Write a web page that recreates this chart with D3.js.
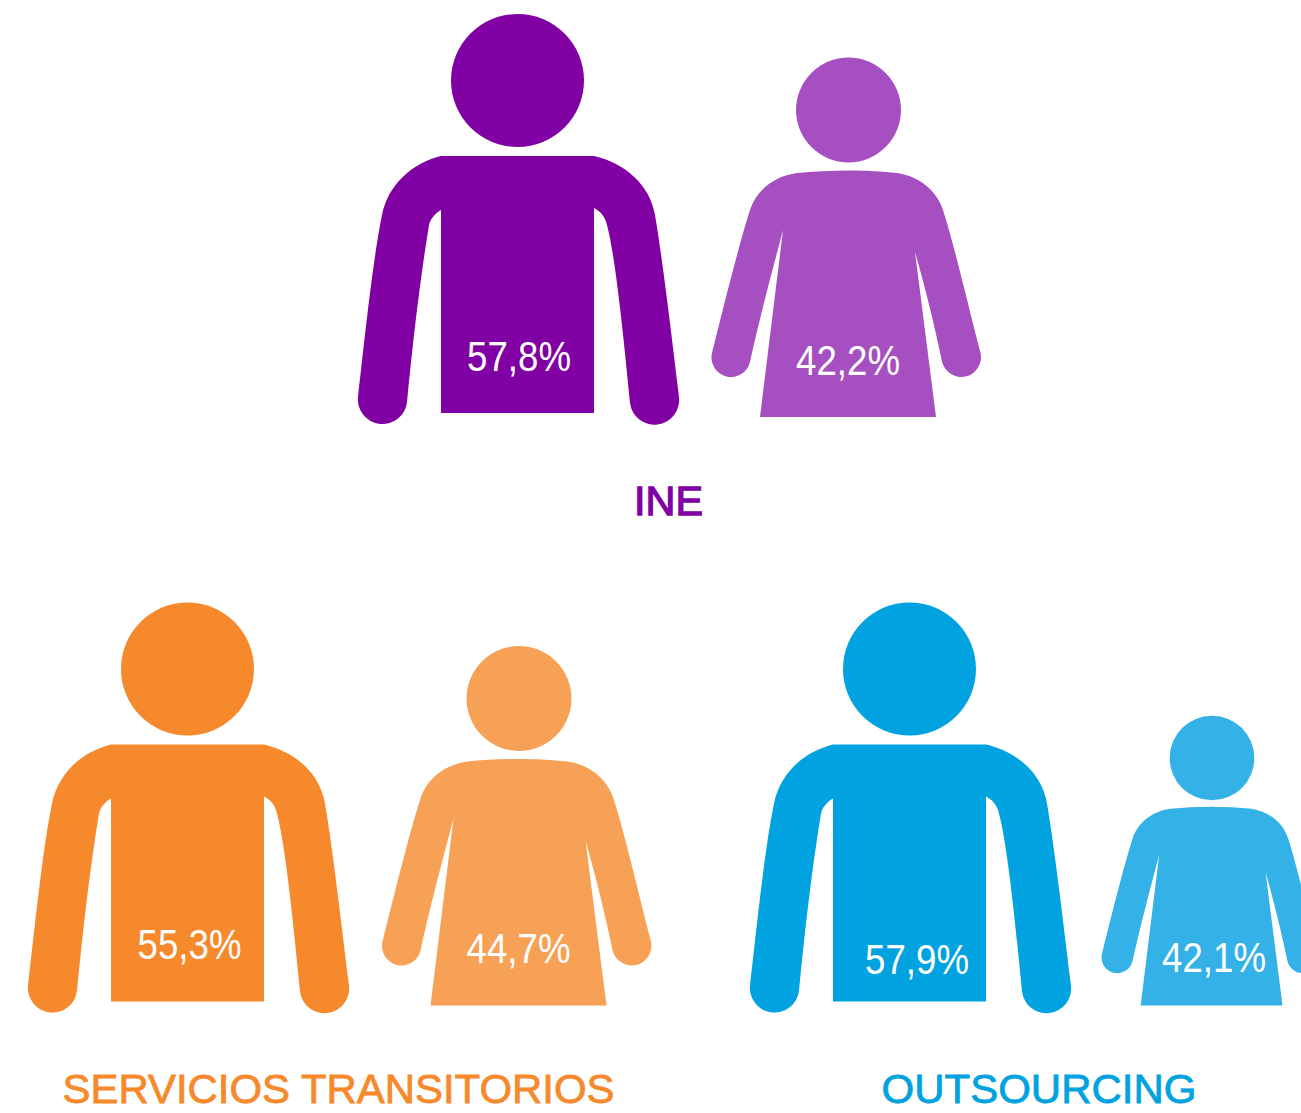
<!DOCTYPE html>
<html><head><meta charset="utf-8">
<script src="https://cdn.jsdelivr.net/npm/d3@7"></script>
<style>html,body{margin:0;background:#fff;overflow:hidden}svg{display:block}</style>
</head><body><div id="c"></div>
<script>
const groups = ["INE", "SERVICIOS TRANSITORIOS", "OUTSOURCING"];
const menValues = [57.8, 55.3, 57.9];
const womenValues = [42.2, 44.7, 42.1];
const menColors = ["#8000a3", "#f6892c", "#00a2e0"];
const womenColors = ["#a54fc0", "#f7a156", "#34b1e6"];

// layout (px)
const menPos = [[517.5, 80.5], [187.5, 669], [909.5, 669]];
const womenPos = [[848.5, 110, 1], [519, 698.5, 1], [1212, 758, 0.806]];
const titlePos = [[668.5, 515], [338.5, 1103], [1039, 1103]];
const titleWidths = [69, 552, 315];
const menLabel = [[519, 370.5], [189.5, 959], [917, 973.5]];
const womenLabel = [[848, 374.5], [518.5, 963], [1214, 971.5]];

// silhouettes relative to head centre
const manR = 66.5, womanR = 52.5;
const manBody = "M-76.5,75.5 L76.5,75.5 C107.5,82.5 132.5,104.5 137.5,134.5 C145.5,181.5 154.5,259.5 161.5,316.5 A20,20 0 0 1 112.5,322.5 C105.5,249.5 97.5,174.5 89.5,144.5 C87.5,135.5 82.5,130.5 76.5,127.5 L76.5,332.5 L-76.5,332.5 L-76.5,129.5 C-83.5,133.5 -87.5,139.5 -88.5,144.5 C-97.5,199.5 -104.5,259.5 -110.5,321.5 A20,20 0 0 1 -159.5,316.5 C-154,270 -145,180 -135.5,134.5 C-129.5,104.5 -105.5,82.5 -76.5,75.5 Z";
const womanBody = "M-51.5,63 C-20,59.5 20,59.5 48.5,63 C70,66 88,80 94.5,100 C106,136 120,197 132,243 A15,15 0 0 1 93.5,251.5 C86,215 76,175 66.5,142 L87.5,307 L-88.5,307 L-65.5,120 C-76,160 -90,212 -98.5,252 A15,15 0 0 1 -136.5,243 C-125,197 -110,136 -98.5,100 C-92,80 -74,66 -51.5,63 Z";

const svg = d3.select("#c").append("svg").attr("width", 1301).attr("height", 1113);

function person(g, body, r, pos, scale, color) {
  const s = d3.scaleLinear().domain([0, 1]).range([0, scale]);
  const p = g.append("g").attr("transform", `translate(${pos[0]},${pos[1]}) scale(${s(1)})`).attr("fill", color);
  p.append("circle").attr("r", r);
  p.append("path").attr("d", body);
}

const fmt = v => d3.format(".1f")(v).replace(".", ",") + "%";

groups.forEach((name, i) => {
  const g = svg.append("g");
  person(g, manBody, manR, menPos[i], 1, menColors[i]);
  person(g, womanBody, womanR, womenPos[i], womenPos[i][2], womenColors[i]);
  [[menValues[i], menLabel[i]], [womenValues[i], womenLabel[i]]].forEach(([v, l]) => {
    g.append("text").attr("x", l[0]).attr("y", l[1]).attr("text-anchor", "middle")
      .attr("font-family", "'Liberation Sans Narrow','Liberation Sans'").attr("font-size", 42)
      .attr("textLength", 104).attr("lengthAdjust", "spacingAndGlyphs")
      .attr("fill", "#fff").text(fmt(v));
  });
  g.append("text").attr("x", titlePos[i][0]).attr("y", titlePos[i][1]).attr("text-anchor", "middle")
    .attr("font-family", "'Liberation Sans'").attr("font-size", 41.5)
    .attr("textLength", titleWidths[i]).attr("lengthAdjust", "spacingAndGlyphs")
    .attr("fill", menColors[i]).attr("stroke", menColors[i]).attr("stroke-width", i === 0 ? 1.3 : 0.8)
    .text(name);
});
</script></body></html>
